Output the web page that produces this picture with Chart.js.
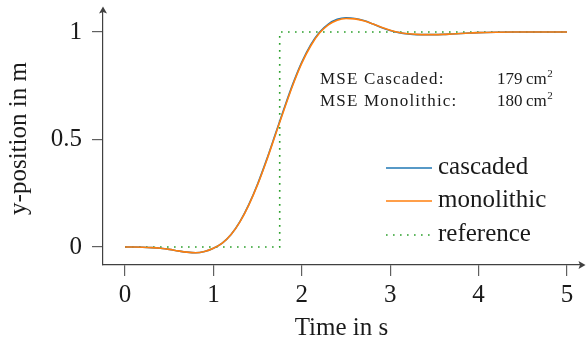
<!DOCTYPE html>
<html>
<head>
<meta charset="utf-8">
<script src="https://cdn.jsdelivr.net/npm/chart.js@4.4.1/dist/chart.umd.min.js"></script>
<style>
  html, body { margin: 0; padding: 0; background: #fff; }
  #plot { display: block; }
</style>
</head>
<body>
<canvas id="plot" width="586" height="347"></canvas>
<script>
// step response of the two controllers
const timeS = [0, 0.1, 0.2, 0.3, 0.4, 0.5, 0.6, 0.7, 0.8, 0.9, 1.0, 1.1, 1.2, 1.3, 1.4, 1.5, 1.6, 1.7, 1.8, 1.9,
  2.0, 2.1, 2.2, 2.3, 2.4, 2.5, 2.6, 2.7, 2.8, 2.9, 3.0, 3.1, 3.2, 3.3, 3.4, 3.5, 3.6, 3.7, 3.8, 3.9,
  4.0, 4.2, 4.4, 4.6, 4.8, 5.0];
const posMonolithic = [0, 0, -0.001, -0.003, -0.006, -0.011, -0.018, -0.024, -0.027, -0.021, -0.006, 0.018, 0.058, 0.117, 0.195, 0.29, 0.4, 0.52, 0.64, 0.755,
  0.855, 0.935, 0.995, 1.033, 1.055, 1.063, 1.061, 1.052, 1.038, 1.022, 1.008, 0.998, 0.992, 0.989, 0.988, 0.988, 0.989, 0.991, 0.993, 0.995,
  0.997, 0.999, 1.0, 1.0, 1.0, 1.0];
const posCascaded = [0, 0, -0.001, -0.003, -0.006, -0.011, -0.018, -0.024, -0.027, -0.021, -0.006, 0.018, 0.058, 0.118, 0.197, 0.293, 0.404, 0.524, 0.645, 0.76,
  0.86, 0.94, 0.999, 1.037, 1.059, 1.066, 1.063, 1.053, 1.038, 1.021, 1.007, 0.997, 0.991, 0.988, 0.988, 0.988, 0.989, 0.991, 0.993, 0.995,
  0.997, 0.999, 1.0, 1.0, 1.0, 1.0];

// reference step
const refTime = [0, 1.75, 1.75, 5];
const refPos = [0, 0, 1, 1];

const xTicks = [0, 1, 2, 3, 4, 5];
const yTicks = [0, 0.5, 1];
const mseLabels = ['MSE Cascaded:', 'MSE Monolithic:'];
const mseValues = ['179', '180'];

const serif = "'Liberation Serif', 'Times New Roman', serif";
const inkColor = '#1a1a1a';
const axisColor = '#404040';

const toPoints = (xs, ys) => xs.map((x, i) => ({ x: x, y: ys[i] }));

// keep the plot area exactly where the layout padding puts it
const noLabelPadding = s => {
  s.paddingTop = 0;
  s.paddingBottom = 0;
  s.paddingLeft = 0;
  s.paddingRight = 0;
};

// axis arrows, legend and MSE box
const decorations = {
  id: 'decorations',
  afterDraw(chart) {
    const ctx = chart.ctx;
    const a = chart.chartArea;
    ctx.save();
    ctx.fillStyle = axisColor;
    // arrow on x axis
    ctx.beginPath();
    ctx.moveTo(a.right + 5.5, a.bottom);
    ctx.lineTo(a.right - 1.5, a.bottom - 4);
    ctx.lineTo(a.right, a.bottom);
    ctx.lineTo(a.right - 1.5, a.bottom + 4);
    ctx.closePath();
    ctx.fill();
    // arrow on y axis
    ctx.beginPath();
    ctx.moveTo(a.left, a.top - 5.5);
    ctx.lineTo(a.left - 4, a.top + 1.5);
    ctx.lineTo(a.left, a.top);
    ctx.lineTo(a.left + 4, a.top + 1.5);
    ctx.closePath();
    ctx.fill();

    // legend
    const rows = [168, 201, 235];
    chart.data.datasets.forEach((ds, i) => {
      const y = rows[i];
      ctx.beginPath();
      ctx.strokeStyle = ds.borderColor;
      ctx.lineWidth = ds.borderWidth;
      ctx.setLineDash(ds.borderDash || []);
      ctx.moveTo(386, y);
      ctx.lineTo(432, y);
      ctx.stroke();
      ctx.setLineDash([]);
      ctx.fillStyle = inkColor;
      ctx.font = '25px ' + serif;
      ctx.textBaseline = 'alphabetic';
      ctx.textAlign = 'left';
      ctx.fillText(ds.label, 438, y + 6);
    });

    // MSE values
    ctx.fillStyle = inkColor;
    const mseRows = [84, 106];
    mseLabels.forEach((t, i) => {
      const y = mseRows[i];
      ctx.font = '17px ' + serif;
      ctx.letterSpacing = '1.2px';
      ctx.fillText(t, 320, y);
      ctx.letterSpacing = '0px';
      ctx.fillText(mseValues[i], 497, y);
      const w = ctx.measureText(mseValues[i]).width;
      ctx.fillText('cm', 497 + w + 3.5, y);
      const w2 = ctx.measureText('cm').width;
      ctx.font = '11px ' + serif;
      ctx.fillText('2', 497 + w + 3.5 + w2 + 0.5, y - 7);
    });
    ctx.restore();
  }
};

new Chart(document.getElementById('plot'), {
  type: 'line',
  data: {
    datasets: [
      {
        label: 'cascaded',
        data: toPoints(timeS, posCascaded),
        borderColor: '#1f77b4',
        borderWidth: 1.6,
        pointRadius: 0,
        cubicInterpolationMode: 'monotone',
        order: 1
      },
      {
        label: 'monolithic',
        data: toPoints(timeS, posMonolithic),
        borderColor: '#ff7f0e',
        borderWidth: 1.6,
        pointRadius: 0,
        cubicInterpolationMode: 'monotone',
        order: 0
      },
      {
        label: 'reference',
        data: toPoints(refTime, refPos),
        borderColor: '#2ca02c',
        borderWidth: 1.6,
        borderDash: [1.6, 5.4],
        pointRadius: 0,
        tension: 0,
        order: 2
      }
    ]
  },
  options: {
    responsive: false,
    animation: false,
    devicePixelRatio: 1,
    layout: { padding: { left: 0, right: 6, top: 12, bottom: 0 } },
    plugins: {
      legend: { display: false },
      tooltip: { enabled: false }
    },
    scales: {
      x: {
        type: 'linear',
        min: -0.249,
        max: 5.147,
        afterBuildTicks: s => { s.ticks = xTicks.map(v => ({ value: v })); },
        afterFit: s => { s.height = 82; noLabelPadding(s); },
        border: { color: axisColor, width: 1.2 },
        grid: { drawOnChartArea: false, drawTicks: true, tickLength: 11, color: '#606060', lineWidth: 1.2 },
        ticks: {
          color: inkColor,
          font: { family: serif, size: 25 },
          padding: 4,
          maxRotation: 0,
          autoSkip: false
        },
        title: {
          display: true,
          text: 'Time in s',
          color: inkColor,
          font: { family: serif, size: 25 },
          padding: { top: 2, bottom: 4 }
        }
      },
      y: {
        type: 'linear',
        min: -0.0837,
        max: 1.093,
        afterBuildTicks: s => { s.ticks = yTicks.map(v => ({ value: v })); },
        afterFit: s => { s.width = 103; noLabelPadding(s); },
        border: { color: axisColor, width: 1.2 },
        grid: { drawOnChartArea: false, drawTicks: true, tickLength: 11, color: '#606060', lineWidth: 1.2 },
        ticks: {
          color: inkColor,
          font: { family: serif, size: 25 },
          padding: 10,
          callback: v => String(v)
        },
        title: {
          display: true,
          text: 'y-position in m',
          color: inkColor,
          font: { family: serif, size: 25 },
          padding: { top: 4, bottom: 0 }
        }
      }
    }
  },
  plugins: [decorations]
});
</script>
</body>
</html>
